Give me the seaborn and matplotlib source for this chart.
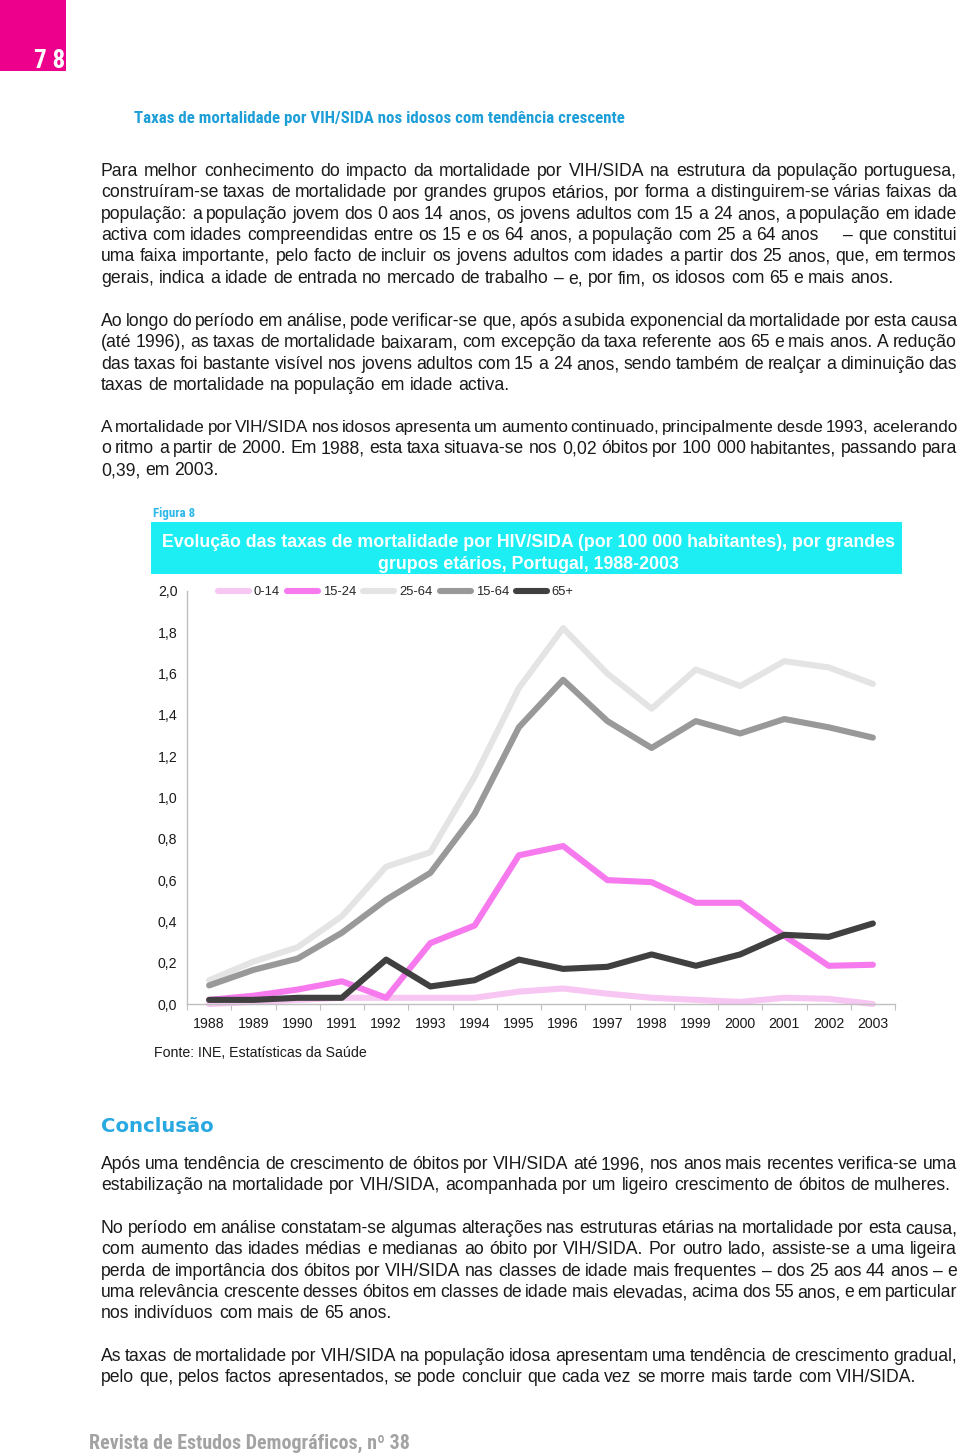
import math
import numpy as np
import pandas as pd
import matplotlib
matplotlib.use("Agg")
import matplotlib.pyplot as plt
import seaborn as sns
from matplotlib import font_manager
from matplotlib.font_manager import FontProperties
from matplotlib.transforms import IdentityTransform
from matplotlib.patches import Rectangle

# ---------------- data ----------------
years = list(range(1988, 2004))
groups = ["0-14", "15-24", "25-64", "15-64", "65+"]
rate_0_14 = [0.00, 0.01, 0.02, 0.03, 0.03, 0.03, 0.03, 0.06, 0.075, 0.05, 0.03, 0.02, 0.01, 0.03, 0.025, 0.00]
rate_15_24 = [0.02, 0.04, 0.07, 0.11, 0.03, 0.295, 0.38, 0.72, 0.765, 0.60, 0.59, 0.49, 0.49, 0.33, 0.185, 0.19]
rate_25_64 = [0.115, 0.205, 0.275, 0.425, 0.665, 0.735, 1.10, 1.53, 1.82, 1.60, 1.43, 1.62, 1.54, 1.66, 1.63, 1.55]
rate_15_64 = [0.09, 0.165, 0.22, 0.345, 0.505, 0.635, 0.92, 1.34, 1.57, 1.37, 1.24, 1.37, 1.31, 1.38, 1.34, 1.29]
rate_65 = [0.02, 0.02, 0.03, 0.03, 0.215, 0.085, 0.115, 0.215, 0.17, 0.18, 0.24, 0.185, 0.24, 0.335, 0.325, 0.39]
y_ticks = [0.0, 0.2, 0.4, 0.6, 0.8, 1.0, 1.2, 1.4, 1.6, 1.8, 2.0]
y_tick_labels = ["0,0", "0,2", "0,4", "0,6", "0,8", "1,0", "1,2", "1,4", "1,6", "1,8", "2,0"]
colors = {"0-14": "#F8C6F2", "15-24": "#F67AEE", "25-64": "#E4E4E4", "15-64": "#999999", "65+": "#404040"}

df = pd.DataFrame({
    "year": years * 5,
    "rate": rate_0_14 + rate_15_24 + rate_25_64 + rate_15_64 + rate_65,
    "group": sum([[g] * len(years) for g in groups], []),
})

# ---------------- texts ----------------
header_title = "Taxas de mortalidade por VIH/SIDA nos idosos com tendência crescente"
para1 = [
    "Para melhor conhecimento do impacto da mortalidade por VIH/SIDA na estrutura da população portuguesa,",
    "construíram-se taxas de mortalidade por grandes grupos etários, por forma a distinguirem-se várias faixas da",
    "população: a população jovem dos 0 aos 14 anos, os jovens adultos com 15 a 24 anos, a população em idade",
    "activa com idades compreendidas entre os 15 e os 64 anos, a população com 25 a 64 anos     – que constitui",
    "uma faixa importante, pelo facto de incluir os jovens adultos com idades a partir dos 25 anos, que, em termos",
    "gerais, indica a idade de entrada no mercado de trabalho – e, por fim, os idosos com 65 e mais anos.",
]
para2 = [
    "Ao longo do período em análise, pode verificar-se que, após a subida exponencial da mortalidade por esta causa",
    "(até 1996), as taxas de mortalidade baixaram, com excepção da taxa referente aos 65 e mais anos. A redução",
    "das taxas foi bastante visível nos jovens adultos com 15 a 24 anos, sendo também de realçar a diminuição das",
    "taxas de mortalidade na população em idade activa.",
]
para3 = [
    "A mortalidade por VIH/SIDA nos idosos apresenta um aumento continuado, principalmente desde 1993, acelerando",
    "o ritmo a partir de 2000. Em 1988, esta taxa situava-se nos 0,02 óbitos por 100 000 habitantes, passando para",
    "0,39, em 2003.",
]
para4 = [
    "Após uma tendência de crescimento de óbitos por VIH/SIDA até 1996, nos anos mais recentes verifica-se uma",
    "estabilização na mortalidade por VIH/SIDA, acompanhada por um ligeiro crescimento de óbitos de mulheres.",
]
para5 = [
    "No período em análise constatam-se algumas alterações nas estruturas etárias na mortalidade por esta causa,",
    "com aumento das idades médias e medianas ao óbito por VIH/SIDA. Por outro lado, assiste-se a uma ligeira",
    "perda de importância dos óbitos por VIH/SIDA nas classes de idade mais frequentes – dos 25 aos 44 anos – e",
    "uma relevância crescente desses óbitos em classes de idade mais elevadas, acima dos 55 anos, e em particular",
    "nos indivíduos com mais de 65 anos.",
]
para6 = [
    "As taxas de mortalidade por VIH/SIDA na população idosa apresentam uma tendência de crescimento gradual,",
    "pelo que, pelos factos apresentados, se pode concluir que cada vez se morre mais tarde com VIH/SIDA.",
]
fig_label = "Figura 8"
chart_title = ["Evolução das taxas de mortalidade por HIV/SIDA (por 100 000 habitantes), por grandes",
               "grupos etários, Portugal, 1988-2003"]
source = "Fonte: INE, Estatísticas da Saúde"
conclusion = "Conclusão"
footer = "Revista de Estudos Demográficos, nº 38"
page_no = "7 8"

# ---------------- setup ----------------
sns.set_theme(style="white")
plt.rcParams["font.family"] = "Liberation Sans"
plt.rcParams["lines.solid_capstyle"] = "round"
plt.rcParams["lines.solid_joinstyle"] = "round"

# look for a condensed face (narrow headings in the reference)
NARROW = {"family": "Liberation Sans"}
_entries = font_manager.fontManager.ttflist
_names = {f.name for f in _entries}
for cand in ["Liberation Sans Narrow", "Roboto Condensed", "Open Sans Condensed", "Noto Sans Condensed",
             "Arial Narrow", "DejaVu Sans Condensed"]:
    if cand in _names:
        NARROW = {"family": cand}
        break
else:
    for f in _entries:
        st = f.stretch
        is_cond = (isinstance(st, str) and "condensed" in st) or (isinstance(st, (int, float)) and st < 100)
        if is_cond and f.name in ("Noto Sans", "Open Sans", "Roboto", "DejaVu Sans", "Inter", "Lato"):
            NARROW = {"family": f.name, "stretch": st}
            break

W, H = 960, 1455
fig = plt.figure(figsize=(W / 100, H / 100), dpi=100)
fig.patch.set_facecolor("white")
R = fig.canvas.get_renderer()


def px(x):
    return x / W


def py(y):
    return 1 - y / H


def measure(s, fs, **kw):
    t = fig.text(0, 0, s, fontsize=fs, **kw)
    w = t.get_window_extent(R).width
    t.remove()
    return w


def fit_fs(s, width, **kw):
    return 20 * width / measure(s, 20, **kw)


def fit_text(s, x, yb, width, ha="left", **kw):
    fs = fit_fs(s, width, **kw)
    fig.text(px(x), py(yb), s, fontsize=fs, ha=ha, va="baseline", **kw)
    return fs


try:
    from matplotlib.backends.backend_agg import get_hinting_flag
except Exception:
    get_hinting_flag = None


def baseline_error(word, fs, yb):
    """Integer pixel offset the rasteriser gives a word's baseline."""
    try:
        font = R._prepare_font(FontProperties(family="Liberation Sans", size=fs))
        font.set_text(word, 0, flags=get_hinting_flag())
        d26 = font.get_descent()
        _, h26 = font.get_width_height()
        _, yo = font.get_bitmap_offset()
        ymax26 = h26 - d26
        y_agg = round(yb + yo / 64.0 + d26 / 64.0)
        boundary = y_agg - (h26 // 64) + (ymax26 // 64)
        return boundary - yb
    except Exception:
        return 0


# ---------------- page decorations ----------------
fig.patches.append(Rectangle((0, py(71)), px(66), 71 / H, transform=fig.transFigure,
                             facecolor="#EC008C", edgecolor="none"))
fit_text(page_no, 65, 68, 31, ha="right", color="white", weight="bold", **NARROW)
fit_text(header_title, 134, 123, 488, color="#1E9FD8", weight="bold", **NARROW)

# ---------------- justified body text (one text per word) ----------------
BODY_FS = fit_fs(para1[-1], 789)
X0, X1 = 101, 957
TARGET = X1 - X0
SPACE = measure("a a", BODY_FS) - measure("aa", BODY_FS)


def paragraph(lines, y_first, dy=21.35):
    for i, line in enumerate(lines):
        yb = int(round(y_first + i * dy + 5))  # integer baseline (top-down pixels)
        last = i == len(lines) - 1
        words = line.split(" ")
        fs = BODY_FS
        widths = [measure(w, fs) if w else 0 for w in words]
        ngap = max(1, len(words) - 1)
        if not last and sum(widths) + ngap * 0.6 * SPACE > TARGET:
            fs = BODY_FS * (TARGET - ngap * 0.6 * SPACE) / sum(widths)
            widths = [measure(w, fs) if w else 0 for w in words]
        gap = SPACE if last else (TARGET - sum(widths)) / ngap
        x = X0
        for w, wd in zip(words, widths):
            if w:
                e = baseline_error(w, fs, yb)
                fig.text(round(x), H - (yb + e), w, fontsize=fs, color="#1a1a1a",
                         ha="left", va="baseline", transform=IdentityTransform())
            x += wd + gap


paragraph(para1, 171)
paragraph(para2, 321)
paragraph(para3, 427)
paragraph(para4, 1164)
paragraph(para5, 1228)
paragraph(para6, 1356)

fit_text(conclusion, 101, 1132, 113, color="#29A9E1", weight="bold", family="DejaVu Sans")
fit_text(footer, 89, 1449, 321, color="#A3A3A3", weight="bold", **NARROW)

# ---------------- figure title block ----------------
fit_text(fig_label, 153, 517, 42, color="#2DB8EA", weight="bold", **NARROW)
fig.patches.append(Rectangle((px(151), py(574)), px(902 - 151), 52 / H, transform=fig.transFigure,
                             facecolor="#1CEEF4", edgecolor="none"))
TITLE_FS = fit_fs(chart_title[0], 732, weight="bold")
fig.text(px(528), py(547), chart_title[0], fontsize=TITLE_FS, color="white", weight="bold",
         ha="center", va="baseline")
fig.text(px(528), py(569), chart_title[1], fontsize=TITLE_FS, color="white", weight="bold",
         ha="center", va="baseline")

CHART_FS = fit_fs(source, 212)
fig.text(px(154), py(1057), source, fontsize=CHART_FS, color="#1a1a1a", ha="left", va="baseline")

# ---------------- chart ----------------
ax = fig.add_axes([px(187), py(1004), px(895 - 187), (1004 - 591) / H])
sns.lineplot(data=df, x="year", y="rate", hue="group", hue_order=groups, palette=colors,
             linewidth=4.4, estimator=None, sort=False, ax=ax, legend=True)
for ln in ax.lines:
    ln.set_clip_on(False)

ax.set_xlim(1987.5, 2003.5)
ax.set_ylim(0, 2.0)
ax.set_xticks(years)
ax.set_xticklabels([str(y) for y in years], fontsize=CHART_FS, color="#1a1a1a")
ax.set_xticks(np.arange(1987.5, 2004, 1.0), minor=True)
ax.set_yticks(y_ticks)
ax.set_yticklabels(y_tick_labels, fontsize=CHART_FS, color="#1a1a1a")
ax.tick_params(axis="x", which="major", length=0, pad=9)
ax.tick_params(axis="x", which="minor", length=4, width=0.8, color="#BFBFBF", direction="out", bottom=True)
ax.tick_params(axis="y", which="major", length=0, pad=7)
ax.set_xlabel("")
ax.set_ylabel("")
ax.grid(False)
for s in ["top", "right"]:
    ax.spines[s].set_visible(False)
for s in ["left", "bottom"]:
    ax.spines[s].set_color("#BFBFBF")
    ax.spines[s].set_linewidth(1.0)
ax.set_facecolor("none")

handles, labels = ax.get_legend_handles_labels()
LEG_FS = CHART_FS * 0.92
fs_px = LEG_FS * 100 / 72
ax.legend(handles, labels, ncol=5, loc="center left", bbox_to_anchor=(px(218), py(592)),
          bbox_transform=fig.transFigure, frameon=False, fontsize=LEG_FS,
          handlelength=31 / fs_px, handletextpad=5 / fs_px, columnspacing=7 / fs_px, borderpad=0,
          borderaxespad=0)

fig.savefig("out.png", dpi=100, facecolor="white")
